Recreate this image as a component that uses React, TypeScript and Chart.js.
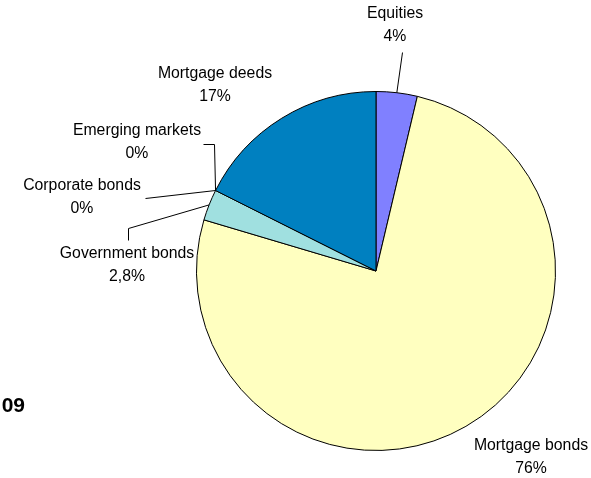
import React, { useEffect, useRef } from "react";
import { Chart, registerables } from "chart.js";

Chart.register(...registerables);

const categories = [
  "Equities",
  "Mortgage bonds",
  "Government bonds",
  "Corporate bonds",
  "Emerging markets",
  "Mortgage deeds",
];
const values = [3.7, 75.9, 2.8, 0, 0, 17.6];
const valueLabels = ["4%", "76%", "2,8%", "0%", "0%", "17%"];
const colors = ["#8080FF", "#FFFFC0", "#A0E0E0", "#C0FFFF", "#800080", "#0080C0"];
const titleFragment = "09";

// label layout: text centre and leader polyline (without the final point on the pie)
const labelLayout = [
  { x: 395, y: 14, leader: [[402, 52]] },
  { x: 531, y: 446, leader: [] },
  { x: 127, y: 254, leader: [[128, 240], [128, 228]] },
  { x: 82, y: 186, leader: [[145, 198]] },
  { x: 137, y: 131, leader: [[203, 144], [214, 144]] },
  { x: 215, y: 74, leader: [] },
];

const labelPlugin = {
  id: "pieLabels",
  afterDatasetsDraw(chart: any) {
    const ctx = chart.ctx;
    const meta = chart.getDatasetMeta(0);
    ctx.save();
    ctx.font = "15.8px 'Liberation Sans', Arial, sans-serif";
    ctx.fillStyle = "#000";
    ctx.textAlign = "center";
    ctx.textBaseline = "middle";
    meta.data.forEach((arc: any, i: number) => {
      const L = labelLayout[i];
      ctx.fillText(categories[i], L.x, L.y);
      ctx.fillText(valueLabels[i], L.x, L.y + 23);
      if (L.leader.length) {
        const mid = (arc.startAngle + arc.endAngle) / 2;
        const px = arc.x + Math.cos(mid) * arc.outerRadius;
        const py = arc.y + Math.sin(mid) * arc.outerRadius;
        ctx.beginPath();
        ctx.strokeStyle = "#000";
        ctx.lineWidth = 1;
        ctx.moveTo(L.leader[0][0] + 0.5, L.leader[0][1] + 0.5);
        for (let k = 1; k < L.leader.length; k++) ctx.lineTo(L.leader[k][0] + 0.5, L.leader[k][1] + 0.5);
        ctx.lineTo(px, py);
        ctx.stroke();
      }
    });
    ctx.font = "bold 21px 'Liberation Sans', Arial, sans-serif";
    ctx.textAlign = "right";
    ctx.textBaseline = "alphabetic";
    ctx.fillText(titleFragment, 25, 412);
    ctx.restore();
  },
};

export default function App() {
  const ref = useRef<HTMLCanvasElement>(null);
  useEffect(() => {
    if (!ref.current) return;
    const chart = new Chart(ref.current, {
      type: "pie",
      data: {
        labels: categories,
        datasets: [
          {
            data: values,
            backgroundColor: colors,
            borderColor: "#000",
            borderWidth: 1,
            hoverOffset: 0,
          },
        ],
      },
      options: {
        animation: false,
        responsive: false,
        devicePixelRatio: 1,
        layout: { padding: { left: 196, right: 35, top: 91, bottom: 27 } },
        plugins: { legend: { display: false }, tooltip: { enabled: false }, title: { display: false } },
      },
      plugins: [labelPlugin],
    });
    return () => chart.destroy();
  }, []);
  return (
    <div style={{ position: "fixed", left: 0, top: 0, width: 591, height: 478, background: "#fff" }}>
      <canvas ref={ref} width={591} height={478} />
    </div>
  );
}
